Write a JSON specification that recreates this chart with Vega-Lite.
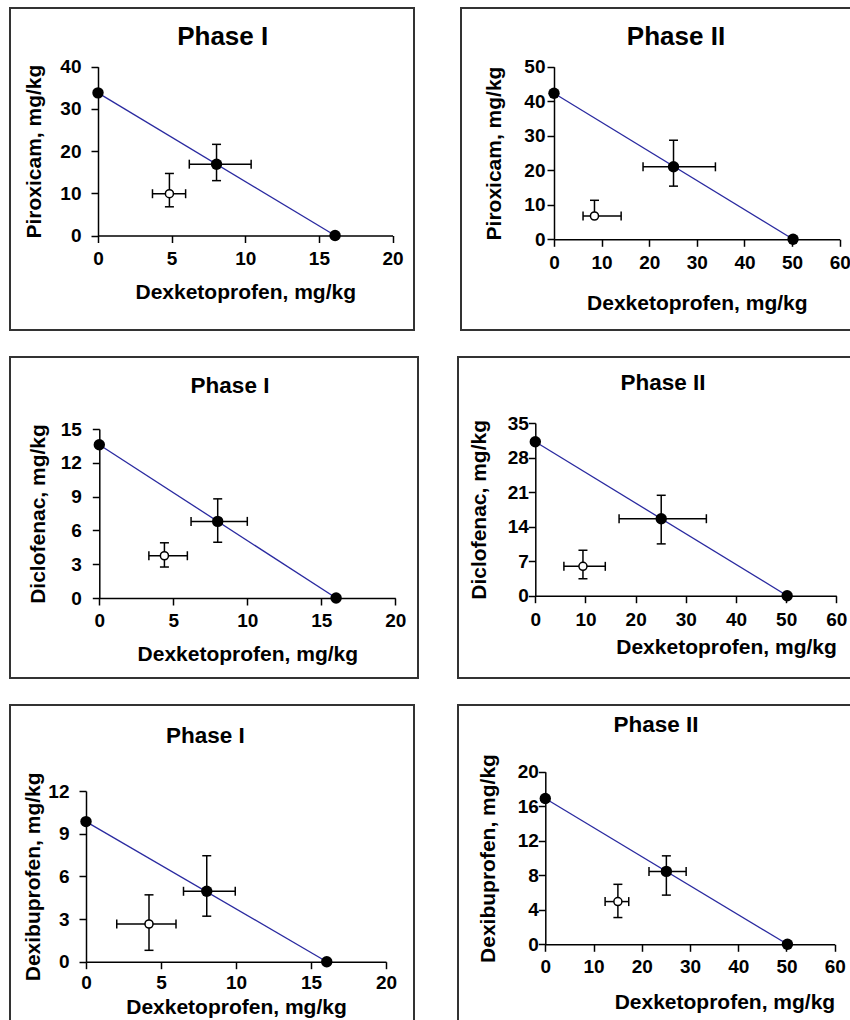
{
  "$schema": "https://vega.github.io/schema/vega-lite/v6.json",
  "background": "white",
  "padding": {"left": 9, "top": 7, "right": 0, "bottom": 0},
  "datasets": {
    "p1": [
      {"type": "ED50", "x": 0, "y": 33.8},
      {"type": "ED50", "x": 16.1, "y": 0},
      {"type": "theoretical", "x": 8.05, "y": 16.9, "xlo": 6.2, "xhi": 10.4, "ylo": 13.0, "yhi": 21.6},
      {"type": "experimental", "x": 4.85, "y": 9.9, "xlo": 3.7, "xhi": 5.95, "ylo": 6.8, "yhi": 14.7}
    ],
    "p2": [
      {"type": "ED50", "x": 0, "y": 42.3},
      {"type": "ED50", "x": 50.2, "y": 0},
      {"type": "theoretical", "x": 25.1, "y": 21.0, "xlo": 18.7, "xhi": 33.9, "ylo": 15.4, "yhi": 28.7},
      {"type": "experimental", "x": 8.5, "y": 6.75, "xlo": 6.1, "xhi": 14.1, "ylo": 6.75, "yhi": 11.3}
    ],
    "p3": [
      {"type": "ED50", "x": 0, "y": 13.6},
      {"type": "ED50", "x": 16.0, "y": 0},
      {"type": "theoretical", "x": 8.0, "y": 6.8, "xlo": 6.2, "xhi": 10.0, "ylo": 4.95, "yhi": 8.8},
      {"type": "experimental", "x": 4.4, "y": 3.75, "xlo": 3.35, "xhi": 5.95, "ylo": 2.75, "yhi": 4.9}
    ],
    "p4": [
      {"type": "ED50", "x": 0, "y": 31.2},
      {"type": "ED50", "x": 50.2, "y": 0},
      {"type": "theoretical", "x": 25.1, "y": 15.6, "xlo": 16.7, "xhi": 34.1, "ylo": 10.5, "yhi": 20.35},
      {"type": "experimental", "x": 9.5, "y": 5.95, "xlo": 5.7, "xhi": 13.95, "ylo": 3.45, "yhi": 9.2}
    ],
    "p5": [
      {"type": "ED50", "x": 0, "y": 9.85},
      {"type": "ED50", "x": 16.05, "y": 0},
      {"type": "theoretical", "x": 8.05, "y": 4.95, "xlo": 6.5, "xhi": 9.95, "ylo": 3.2, "yhi": 7.45},
      {"type": "experimental", "x": 4.2, "y": 2.65, "xlo": 2.05, "xhi": 6.0, "ylo": 0.8, "yhi": 4.7}
    ],
    "p6": [
      {"type": "ED50", "x": 0, "y": 16.9},
      {"type": "ED50", "x": 50.2, "y": 0},
      {"type": "theoretical", "x": 25.1, "y": 8.45, "xlo": 21.5, "xhi": 29.2, "ylo": 5.7, "yhi": 10.25},
      {"type": "experimental", "x": 15.05, "y": 4.95, "xlo": 12.4, "xhi": 17.3, "ylo": 3.1, "yhi": 6.95}
    ]
  },
  "vconcat": [
    {
      "hconcat": [
        {
          "width": 404, "height": 322,
          "title": {"text": "Phase I", "fontSize": 26, "offset": -42, "dx": 10.7},
          "data": {"name": "p1"},
          "encoding": {
            "x": {"field": "x", "type": "quantitative", "scale": {"domain": [0, 20], "range": [88, 382.5]},
                  "axis": {"title": "Dexketoprofen, mg/kg", "values": [0, 5, 10, 15, 20], "offset": -94.5, "labelPadding": 7, "titlePadding": 13}},
            "y": {"field": "y", "type": "quantitative", "scale": {"domain": [0, 40], "range": [227.5, 58.7]},
                  "axis": {"title": "Piroxicam, mg/kg", "values": [0, 10, 20, 30, 40], "offset": -88, "labelPadding": 10, "titlePadding": 15}}
          },
          "layer": [
            {"transform": [{"filter": "datum.type === 'ED50'"}], "mark": {"type": "line", "color": "#2a2aa0", "strokeWidth": 1.3}, "encoding": {"order": {"field": "x"}}},
            {"transform": [{"filter": "datum.xlo != null"}], "mark": {"type": "rule", "color": "black", "strokeWidth": 1.5}, "encoding": {"x": {"field": "xlo", "type": "quantitative"}, "x2": {"field": "xhi"}}},
            {"transform": [{"filter": "datum.ylo != null"}], "mark": {"type": "rule", "color": "black", "strokeWidth": 1.5}, "encoding": {"y": {"field": "ylo", "type": "quantitative"}, "y2": {"field": "yhi"}}},
            {"transform": [{"filter": "datum.xlo != null"}], "mark": {"type": "tick", "orient": "vertical", "size": 9, "thickness": 1.5, "color": "black", "opacity": 1}, "encoding": {"x": {"field": "xlo", "type": "quantitative"}}},
            {"transform": [{"filter": "datum.xhi != null"}], "mark": {"type": "tick", "orient": "vertical", "size": 9, "thickness": 1.5, "color": "black", "opacity": 1}, "encoding": {"x": {"field": "xhi", "type": "quantitative"}}},
            {"transform": [{"filter": "datum.ylo != null"}], "mark": {"type": "tick", "orient": "horizontal", "size": 9, "thickness": 1.5, "color": "black", "opacity": 1}, "encoding": {"y": {"field": "ylo", "type": "quantitative"}}},
            {"transform": [{"filter": "datum.yhi != null"}], "mark": {"type": "tick", "orient": "horizontal", "size": 9, "thickness": 1.5, "color": "black", "opacity": 1}, "encoding": {"y": {"field": "yhi", "type": "quantitative"}}},
            {"transform": [{"filter": "datum.type !== 'experimental'"}], "mark": {"type": "point", "shape": "circle", "filled": true, "color": "black", "size": 130, "opacity": 1}},
            {"transform": [{"filter": "datum.type === 'experimental'"}], "mark": {"type": "point", "shape": "circle", "fill": "white", "stroke": "black", "strokeWidth": 1.5, "size": 65, "opacity": 1, "fillOpacity": 1}}
          ]
        },
        {
          "width": 390, "height": 322,
          "title": {"text": "Phase II", "fontSize": 26, "offset": -42, "dx": 20},
          "data": {"name": "p2"},
          "encoding": {
            "x": {"field": "x", "type": "quantitative", "scale": {"domain": [0, 60], "range": [93, 378.7]},
                  "axis": {"title": "Dexketoprofen, mg/kg", "values": [0, 10, 20, 30, 40, 50, 60], "offset": -90.7, "labelPadding": 7, "titlePadding": 20}},
            "y": {"field": "y", "type": "quantitative", "scale": {"domain": [0, 50], "range": [231.3, 58.7]},
                  "axis": {"title": "Piroxicam, mg/kg", "values": [0, 10, 20, 30, 40, 50], "offset": -93, "labelPadding": 2, "titlePadding": 19}}
          },
          "layer": [
            {"transform": [{"filter": "datum.type === 'ED50'"}], "mark": {"type": "line", "color": "#2a2aa0", "strokeWidth": 1.3}, "encoding": {"order": {"field": "x"}}},
            {"transform": [{"filter": "datum.xlo != null"}], "mark": {"type": "rule", "color": "black", "strokeWidth": 1.5}, "encoding": {"x": {"field": "xlo", "type": "quantitative"}, "x2": {"field": "xhi"}}},
            {"transform": [{"filter": "datum.ylo != null"}], "mark": {"type": "rule", "color": "black", "strokeWidth": 1.5}, "encoding": {"y": {"field": "ylo", "type": "quantitative"}, "y2": {"field": "yhi"}}},
            {"transform": [{"filter": "datum.xlo != null"}], "mark": {"type": "tick", "orient": "vertical", "size": 9, "thickness": 1.5, "color": "black", "opacity": 1}, "encoding": {"x": {"field": "xlo", "type": "quantitative"}}},
            {"transform": [{"filter": "datum.xhi != null"}], "mark": {"type": "tick", "orient": "vertical", "size": 9, "thickness": 1.5, "color": "black", "opacity": 1}, "encoding": {"x": {"field": "xhi", "type": "quantitative"}}},
            {"transform": [{"filter": "datum.ylo != null"}], "mark": {"type": "tick", "orient": "horizontal", "size": 9, "thickness": 1.5, "color": "black", "opacity": 1}, "encoding": {"y": {"field": "ylo", "type": "quantitative"}}},
            {"transform": [{"filter": "datum.yhi != null"}], "mark": {"type": "tick", "orient": "horizontal", "size": 9, "thickness": 1.5, "color": "black", "opacity": 1}, "encoding": {"y": {"field": "yhi", "type": "quantitative"}}},
            {"transform": [{"filter": "datum.type !== 'experimental'"}], "mark": {"type": "point", "shape": "circle", "filled": true, "color": "black", "size": 130, "opacity": 1}},
            {"transform": [{"filter": "datum.type === 'experimental'"}], "mark": {"type": "point", "shape": "circle", "fill": "white", "stroke": "black", "strokeWidth": 1.5, "size": 65, "opacity": 1, "fillOpacity": 1}}
          ]
        }
      ],
      "spacing": 45
    },
    {
      "hconcat": [
        {
          "width": 408, "height": 321,
          "title": {"text": "Phase I", "fontSize": 22.5, "offset": -40, "dx": 16},
          "data": {"name": "p3"},
          "encoding": {
            "x": {"field": "x", "type": "quantitative", "scale": {"domain": [0, 20], "range": [89.3, 385.3]},
                  "axis": {"title": "Dexketoprofen, mg/kg", "values": [0, 5, 10, 15, 20], "offset": -80, "labelPadding": 6, "titlePadding": 13}},
            "y": {"field": "y", "type": "quantitative", "scale": {"domain": [0, 15], "range": [241, 72]},
                  "axis": {"title": "Diclofenac, mg/kg", "values": [0, 3, 6, 9, 12, 15], "offset": -89.3, "labelPadding": 11, "titlePadding": 12}}
          },
          "layer": [
            {"transform": [{"filter": "datum.type === 'ED50'"}], "mark": {"type": "line", "color": "#2a2aa0", "strokeWidth": 1.3}, "encoding": {"order": {"field": "x"}}},
            {"transform": [{"filter": "datum.xlo != null"}], "mark": {"type": "rule", "color": "black", "strokeWidth": 1.5}, "encoding": {"x": {"field": "xlo", "type": "quantitative"}, "x2": {"field": "xhi"}}},
            {"transform": [{"filter": "datum.ylo != null"}], "mark": {"type": "rule", "color": "black", "strokeWidth": 1.5}, "encoding": {"y": {"field": "ylo", "type": "quantitative"}, "y2": {"field": "yhi"}}},
            {"transform": [{"filter": "datum.xlo != null"}], "mark": {"type": "tick", "orient": "vertical", "size": 9, "thickness": 1.5, "color": "black", "opacity": 1}, "encoding": {"x": {"field": "xlo", "type": "quantitative"}}},
            {"transform": [{"filter": "datum.xhi != null"}], "mark": {"type": "tick", "orient": "vertical", "size": 9, "thickness": 1.5, "color": "black", "opacity": 1}, "encoding": {"x": {"field": "xhi", "type": "quantitative"}}},
            {"transform": [{"filter": "datum.ylo != null"}], "mark": {"type": "tick", "orient": "horizontal", "size": 9, "thickness": 1.5, "color": "black", "opacity": 1}, "encoding": {"y": {"field": "ylo", "type": "quantitative"}}},
            {"transform": [{"filter": "datum.yhi != null"}], "mark": {"type": "tick", "orient": "horizontal", "size": 9, "thickness": 1.5, "color": "black", "opacity": 1}, "encoding": {"y": {"field": "yhi", "type": "quantitative"}}},
            {"transform": [{"filter": "datum.type !== 'experimental'"}], "mark": {"type": "point", "shape": "circle", "filled": true, "color": "black", "size": 130, "opacity": 1}},
            {"transform": [{"filter": "datum.type === 'experimental'"}], "mark": {"type": "point", "shape": "circle", "fill": "white", "stroke": "black", "strokeWidth": 1.5, "size": 65, "opacity": 1, "fillOpacity": 1}}
          ]
        },
        {
          "width": 394, "height": 321,
          "title": {"text": "Phase II", "fontSize": 22.5, "offset": -37, "dx": 8},
          "data": {"name": "p4"},
          "encoding": {
            "x": {"field": "x", "type": "quantitative", "scale": {"domain": [0, 60], "range": [77.3, 378.3]},
                  "axis": {"title": "Dexketoprofen, mg/kg", "titleAnchor": "end", "values": [0, 10, 20, 30, 40, 50, 60], "offset": -82.3, "labelPadding": 8, "titlePadding": 7}},
            "y": {"field": "y", "type": "quantitative", "scale": {"domain": [0, 35], "range": [238.7, 66]},
                  "axis": {"title": "Diclofenac, mg/kg", "values": [0, 7, 14, 21, 28, 35], "offset": -77.3, "labelPadding": 0, "titlePadding": 18}}
          },
          "layer": [
            {"transform": [{"filter": "datum.type === 'ED50'"}], "mark": {"type": "line", "color": "#2a2aa0", "strokeWidth": 1.3}, "encoding": {"order": {"field": "x"}}},
            {"transform": [{"filter": "datum.xlo != null"}], "mark": {"type": "rule", "color": "black", "strokeWidth": 1.5}, "encoding": {"x": {"field": "xlo", "type": "quantitative"}, "x2": {"field": "xhi"}}},
            {"transform": [{"filter": "datum.ylo != null"}], "mark": {"type": "rule", "color": "black", "strokeWidth": 1.5}, "encoding": {"y": {"field": "ylo", "type": "quantitative"}, "y2": {"field": "yhi"}}},
            {"transform": [{"filter": "datum.xlo != null"}], "mark": {"type": "tick", "orient": "vertical", "size": 9, "thickness": 1.5, "color": "black", "opacity": 1}, "encoding": {"x": {"field": "xlo", "type": "quantitative"}}},
            {"transform": [{"filter": "datum.xhi != null"}], "mark": {"type": "tick", "orient": "vertical", "size": 9, "thickness": 1.5, "color": "black", "opacity": 1}, "encoding": {"x": {"field": "xhi", "type": "quantitative"}}},
            {"transform": [{"filter": "datum.ylo != null"}], "mark": {"type": "tick", "orient": "horizontal", "size": 9, "thickness": 1.5, "color": "black", "opacity": 1}, "encoding": {"y": {"field": "ylo", "type": "quantitative"}}},
            {"transform": [{"filter": "datum.yhi != null"}], "mark": {"type": "tick", "orient": "horizontal", "size": 9, "thickness": 1.5, "color": "black", "opacity": 1}, "encoding": {"y": {"field": "yhi", "type": "quantitative"}}},
            {"transform": [{"filter": "datum.type !== 'experimental'"}], "mark": {"type": "point", "shape": "circle", "filled": true, "color": "black", "size": 130, "opacity": 1}},
            {"transform": [{"filter": "datum.type === 'experimental'"}], "mark": {"type": "point", "shape": "circle", "fill": "white", "stroke": "black", "strokeWidth": 1.5, "size": 65, "opacity": 1, "fillOpacity": 1}}
          ]
        }
      ],
      "spacing": 38
    },
    {
      "hconcat": [
        {
          "width": 404, "height": 330,
          "title": {"text": "Phase I", "fontSize": 22.5, "offset": -42.5, "dx": -6.7},
          "data": {"name": "p5"},
          "encoding": {
            "x": {"field": "x", "type": "quantitative", "scale": {"domain": [0, 20], "range": [76, 376]},
                  "axis": {"title": "Dexketoprofen, mg/kg", "values": [0, 5, 10, 15, 20], "offset": -73.3, "labelPadding": 5, "titlePadding": 4}},
            "y": {"field": "y", "type": "quantitative", "scale": {"domain": [0, 12], "range": [256.7, 86]},
                  "axis": {"title": "Dexibuprofen, mg/kg", "values": [0, 3, 6, 9, 12], "offset": -76, "labelPadding": 10, "titlePadding": 4}}
          },
          "layer": [
            {"transform": [{"filter": "datum.type === 'ED50'"}], "mark": {"type": "line", "color": "#2a2aa0", "strokeWidth": 1.3}, "encoding": {"order": {"field": "x"}}},
            {"transform": [{"filter": "datum.xlo != null"}], "mark": {"type": "rule", "color": "black", "strokeWidth": 1.5}, "encoding": {"x": {"field": "xlo", "type": "quantitative"}, "x2": {"field": "xhi"}}},
            {"transform": [{"filter": "datum.ylo != null"}], "mark": {"type": "rule", "color": "black", "strokeWidth": 1.5}, "encoding": {"y": {"field": "ylo", "type": "quantitative"}, "y2": {"field": "yhi"}}},
            {"transform": [{"filter": "datum.xlo != null"}], "mark": {"type": "tick", "orient": "vertical", "size": 9, "thickness": 1.5, "color": "black", "opacity": 1}, "encoding": {"x": {"field": "xlo", "type": "quantitative"}}},
            {"transform": [{"filter": "datum.xhi != null"}], "mark": {"type": "tick", "orient": "vertical", "size": 9, "thickness": 1.5, "color": "black", "opacity": 1}, "encoding": {"x": {"field": "xhi", "type": "quantitative"}}},
            {"transform": [{"filter": "datum.ylo != null"}], "mark": {"type": "tick", "orient": "horizontal", "size": 9, "thickness": 1.5, "color": "black", "opacity": 1}, "encoding": {"y": {"field": "ylo", "type": "quantitative"}}},
            {"transform": [{"filter": "datum.yhi != null"}], "mark": {"type": "tick", "orient": "horizontal", "size": 9, "thickness": 1.5, "color": "black", "opacity": 1}, "encoding": {"y": {"field": "yhi", "type": "quantitative"}}},
            {"transform": [{"filter": "datum.type !== 'experimental'"}], "mark": {"type": "point", "shape": "circle", "filled": true, "color": "black", "size": 130, "opacity": 1}},
            {"transform": [{"filter": "datum.type === 'experimental'"}], "mark": {"type": "point", "shape": "circle", "fill": "white", "stroke": "black", "strokeWidth": 1.5, "size": 65, "opacity": 1, "fillOpacity": 1}}
          ]
        },
        {
          "width": 394, "height": 330,
          "title": {"text": "Phase II", "fontSize": 22.5, "offset": -31.5, "dx": 1},
          "data": {"name": "p6"},
          "encoding": {
            "x": {"field": "x", "type": "quantitative", "scale": {"domain": [0, 60], "range": [87.3, 376.7]},
                  "axis": {"title": "Dexketoprofen, mg/kg", "titleAnchor": "end", "values": [0, 10, 20, 30, 40, 50, 60], "offset": -90.7, "labelPadding": 6, "titlePadding": 15}},
            "y": {"field": "y", "type": "quantitative", "scale": {"domain": [0, 20], "range": [239.3, 66.7]},
                  "axis": {"title": "Dexibuprofen, mg/kg", "values": [0, 4, 8, 12, 16, 20], "offset": -87.3, "labelPadding": 0, "titlePadding": 19}}
          },
          "layer": [
            {"transform": [{"filter": "datum.type === 'ED50'"}], "mark": {"type": "line", "color": "#2a2aa0", "strokeWidth": 1.3}, "encoding": {"order": {"field": "x"}}},
            {"transform": [{"filter": "datum.xlo != null"}], "mark": {"type": "rule", "color": "black", "strokeWidth": 1.5}, "encoding": {"x": {"field": "xlo", "type": "quantitative"}, "x2": {"field": "xhi"}}},
            {"transform": [{"filter": "datum.ylo != null"}], "mark": {"type": "rule", "color": "black", "strokeWidth": 1.5}, "encoding": {"y": {"field": "ylo", "type": "quantitative"}, "y2": {"field": "yhi"}}},
            {"transform": [{"filter": "datum.xlo != null"}], "mark": {"type": "tick", "orient": "vertical", "size": 9, "thickness": 1.5, "color": "black", "opacity": 1}, "encoding": {"x": {"field": "xlo", "type": "quantitative"}}},
            {"transform": [{"filter": "datum.xhi != null"}], "mark": {"type": "tick", "orient": "vertical", "size": 9, "thickness": 1.5, "color": "black", "opacity": 1}, "encoding": {"x": {"field": "xhi", "type": "quantitative"}}},
            {"transform": [{"filter": "datum.ylo != null"}], "mark": {"type": "tick", "orient": "horizontal", "size": 9, "thickness": 1.5, "color": "black", "opacity": 1}, "encoding": {"y": {"field": "ylo", "type": "quantitative"}}},
            {"transform": [{"filter": "datum.yhi != null"}], "mark": {"type": "tick", "orient": "horizontal", "size": 9, "thickness": 1.5, "color": "black", "opacity": 1}, "encoding": {"y": {"field": "yhi", "type": "quantitative"}}},
            {"transform": [{"filter": "datum.type !== 'experimental'"}], "mark": {"type": "point", "shape": "circle", "filled": true, "color": "black", "size": 130, "opacity": 1}},
            {"transform": [{"filter": "datum.type === 'experimental'"}], "mark": {"type": "point", "shape": "circle", "fill": "white", "stroke": "black", "strokeWidth": 1.5, "size": 65, "opacity": 1, "fillOpacity": 1}}
          ]
        }
      ],
      "spacing": 42
    }
  ],
  "spacing": 25,
  "config": {
    "font": "Liberation Sans",
    "view": {"stroke": "#333333", "strokeWidth": 2},
    "axis": {
      "grid": false,
      "domainColor": "black", "domainWidth": 1.5,
      "tickColor": "black", "tickWidth": 1.5, "tickSize": 7,
      "labelFont": "Liberation Sans", "labelFontSize": 19, "labelFontWeight": "bold", "labelColor": "black",
      "labelOverlap": false, "labelFlush": false, "labelBound": false,
      "titleFont": "Liberation Sans", "titleFontSize": 21, "titleFontWeight": "bold", "titleColor": "black"
    },
    "title": {"font": "Liberation Sans", "fontWeight": "bold", "color": "black", "baseline": "bottom", "anchor": "middle", "frame": "group"}
  }
}
